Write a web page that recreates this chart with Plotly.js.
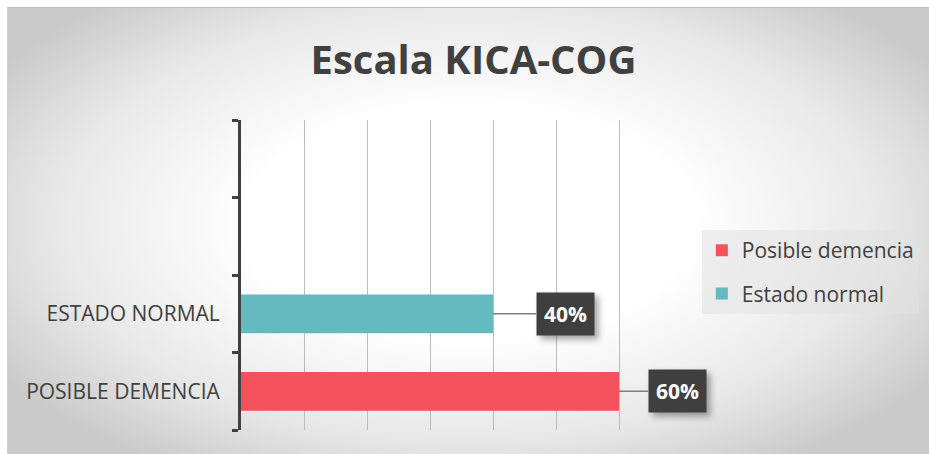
<!DOCTYPE html>
<html>
<head>
<meta charset="utf-8">
<script src="https://cdn.plot.ly/plotly-3.0.1.min.js"></script>
<style>
  html, body { margin: 0; padding: 0; background: #ffffff; }
  #wrap { position: relative; width: 929px; height: 454px; overflow: hidden; }
  #bg { position: absolute; left: 7px; top: 7px; width: 922px; height: 447px;
        background: radial-gradient(ellipse 60% 65% at 50% 48%, #ffffff 40%, #e8e8e8 75%, #cacaca 100%);
        border-top: 1px solid #bdbdbd; border-left: 1px solid #d0d0d0; }
  #chart { position: absolute; left: 0; top: 0; width: 929px; height: 454px; }
  .annotation-text-g rect.bg { filter: drop-shadow(4px 4px 3px rgba(0,0,0,0.35)); }
</style>
</head>
<body>
<div id="wrap">
  <div id="bg"></div>
  <div id="chart"></div>
</div>
<script>
// Data
const categories = ['POSIBLE DEMENCIA', 'ESTADO NORMAL', ' ', '  '];
const seriesNames = ['Posible demencia', 'Estado normal'];
const seriesCategory = ['POSIBLE DEMENCIA', 'ESTADO NORMAL'];
const seriesValues = [0.60, 0.40];
const seriesLabels = ['60%', '40%'];
const seriesColors = ['#f4515c', '#65babf'];

const FONT = '"Open Sans", "Noto Sans", sans-serif';
const textColor = '#404040';
const labelOffsets = [58, 72];

const traces = seriesNames.map((name, i) => ({
  type: 'bar',
  orientation: 'h',
  name: name,
  legendgroup: 'g' + i,
  x: [seriesValues[i]],
  y: [seriesCategory[i]],
  width: 0.5,
  marker: { color: seriesColors[i], line: { width: 0 } },
  hoverinfo: 'skip'
}));

const annotations = seriesNames.map((name, i) => ({
  x: seriesValues[i], y: seriesCategory[i], xref: 'x', yref: 'y',
  text: '<b>' + seriesLabels[i] + '</b>',
  showarrow: true, arrowhead: 0, arrowwidth: 1.5, arrowcolor: '#7f7f7f',
  ax: labelOffsets[i], ay: 0, xanchor: 'center', yanchor: 'middle',
  bgcolor: '#3f3f3f', borderpad: 7,
  font: { family: FONT, size: 21, color: '#ffffff' }
}));

const layout = {
  width: 929, height: 454,
  margin: { l: 241, r: 247, t: 120, b: 24, pad: 0, autoexpand: false },
  paper_bgcolor: 'rgba(0,0,0,0)',
  plot_bgcolor: 'rgba(0,0,0,0)',
  barmode: 'overlay',
  showlegend: true,
  title: {
    text: '<b>Escala KICA-COG</b>',
    font: { family: FONT, size: 40, color: textColor },
    x: 473.5 / 929, xanchor: 'center', xref: 'container',
    y: 1 - 60 / 454, yref: 'container', yanchor: 'middle'
  },
  xaxis: {
    range: [0, 0.7], dtick: 0.1, tick0: 0,
    showgrid: true, gridcolor: '#bcbcbc', gridwidth: 1,
    zeroline: false, showticklabels: false, ticks: '', showline: false,
    fixedrange: true
  },
  yaxis: {
    type: 'category',
    categoryorder: 'array', categoryarray: categories,
    range: [-0.5, 3.5],
    tickson: 'boundaries', ticks: 'outside', ticklen: 6, tickwidth: 3, tickcolor: '#404040',
    showline: true, linecolor: '#404040', linewidth: 3,
    showgrid: false, zeroline: false,
    tickfont: { family: FONT, size: 21, color: textColor },
    ticklabelstandoff: 14,
    fixedrange: true
  },
  legend: {
    x: 1.045, xanchor: 'left', y: 0.645, yanchor: 'top',
    bgcolor: 'rgba(225,225,225,0.55)',
    font: { family: FONT, size: 21, color: textColor },
    traceorder: 'grouped', tracegroupgap: 13,
    itemwidth: 30
  },
  annotations: annotations
};

Plotly.newPlot('chart', traces, layout, { displayModeBar: false, staticPlot: true });
</script>
</body>
</html>
